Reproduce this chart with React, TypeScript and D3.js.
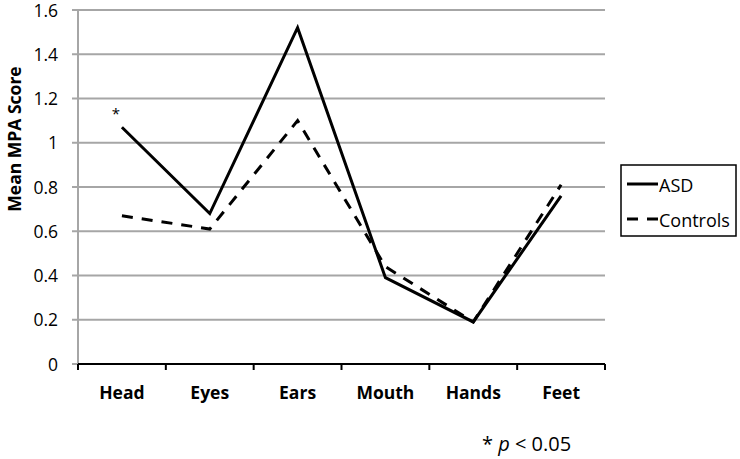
import React from "react";
import * as d3 from "d3";

const categories = ["Head", "Eyes", "Ears", "Mouth", "Hands", "Feet"];
const asd = [1.07, 0.68, 1.52, 0.39, 0.19, 0.76];
const controls = [0.67, 0.61, 1.1, 0.44, 0.19, 0.81];
const yTicks = [0, 0.2, 0.4, 0.6, 0.8, 1, 1.2, 1.4, 1.6];
const seriesNames = ["ASD", "Controls"];

const FONT = "'Open Sans', 'Noto Sans', sans-serif";

export default function App() {
  const left = 78, right = 605, top = 10, bottom = 364;
  const x = d3.scaleBand<string>().domain(categories).range([left, right]);
  const y = d3.scaleLinear().domain([0, 1.6]).range([bottom, top]);
  const cx = (c: string) => (x(c) as number) + x.bandwidth() / 2;
  const line = d3
    .line<number>()
    .x((_, i) => cx(categories[i]))
    .y((d) => y(d));

  const boundaries = d3.range(categories.length + 1).map((i) => left + i * x.bandwidth());

  return (
    <svg width={740} height={459} style={{ position: "absolute", left: 0, top: 0, background: "#fff" }}>
      {yTicks.map((t) => (
        <g key={t}>
          {t > 0 && <line x1={left - 6} x2={right} y1={y(t)} y2={y(t)} stroke="#a6a6a6" strokeWidth={2} />}
          {t === 0 && <line x1={left - 6} x2={left} y1={y(t)} y2={y(t)} stroke="#a6a6a6" strokeWidth={2} />}
          <text x={58} y={y(t) + 6.5} textAnchor="end" fontFamily={FONT} fontSize={17.5} fill="#000">
            {String(t)}
          </text>
        </g>
      ))}
      <line x1={left} x2={left} y1={top} y2={bottom} stroke="#a6a6a6" strokeWidth={2} />
      <line x1={left} x2={right} y1={bottom} y2={bottom} stroke="#000" strokeWidth={2} />
      {boundaries.map((b, i) => (
        <line key={i} x1={b} x2={b} y1={bottom} y2={bottom + 6} stroke="#000" strokeWidth={2} />
      ))}
      {categories.map((c) => (
        <text key={c} x={cx(c)} y={399} textAnchor="middle" fontFamily={FONT} fontWeight="bold" fontSize={17.5} fill="#000">
          {c}
        </text>
      ))}
      <text
        transform={`translate(21, 139) rotate(-90)`}
        textAnchor="middle"
        fontFamily={FONT}
        fontWeight="bold"
        fontSize={17.5}
        fill="#000"
      >
        Mean MPA Score
      </text>
      <path d={line(controls) || ""} fill="none" stroke="#000" strokeWidth={3} strokeDasharray="11,9" />
      <path d={line(asd) || ""} fill="none" stroke="#000" strokeWidth={3} />
      <text x={cx("Head") - 6} y={y(asd[0]) - 8} textAnchor="middle" fontFamily={FONT} fontSize={15} fill="#000">
        *
      </text>
      <rect x={621} y={165} width={115} height={71} fill="#fff" stroke="#000" strokeWidth={1.5} />
      {seriesNames.map((s, i) => (
        <g key={s}>
          <line
            x1={627}
            x2={658}
            y1={184 + i * 35}
            y2={184 + i * 35}
            stroke="#000"
            strokeWidth={3}
            strokeDasharray={i === 1 ? "11,9" : undefined}
          />
          <text x={659} y={191.5 + i * 35} fontFamily={FONT} fontSize={18} fill="#000">
            {s}
          </text>
        </g>
      ))}
      <text x={482} y={451} fontFamily={FONT} fontSize={20} fill="#000">
        * <tspan fontStyle="italic">p</tspan> {"< 0.05"}
      </text>
    </svg>
  );
}
